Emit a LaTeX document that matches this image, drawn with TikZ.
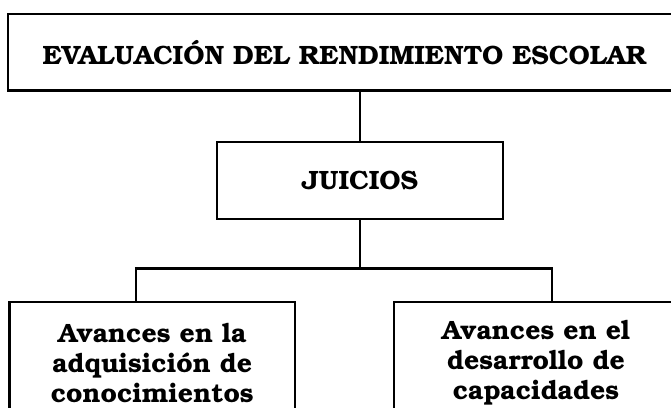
\documentclass[tikz,border=0pt]{standalone}
\usepackage[T1]{fontenc}
\usepackage{bookman}
\begin{document}
\begin{tikzpicture}[x=1pt,y=1pt,
  box/.style={draw=black, line width=2.2pt, rectangle, inner sep=0pt, align=center,
    font=\fontsize{26.5}{30}\selectfont\bfseries},
  conn/.style={draw=black, line width=2.2pt}]
\useasboundingbox (0,0) rectangle (671,-407);
\clip (0,0) rectangle (671,-407);
\fill[white] (0,0) rectangle (671,-407);
\node[box, minimum width=673pt, minimum height=76.5pt] (top) at (344.5,-52.25) {EVALUACI\'ON DEL RENDIMIENTO ESCOLAR};
\node[box, minimum width=286pt, minimum height=77.3pt] (jui) at (360,-180.35) {JUICIOS};
\node[box, minimum width=285.5pt, minimum height=122pt] (l) at (152.25,-363) {Avances en la\\adquisici\'on de\\conocimientos};
\node[box, minimum width=284pt, minimum height=122pt] (r) at (536,-363) {Avances en el\\desarrollo de\\capacidades};
\coordinate (hl) at (136,-268.5);
\coordinate (hr) at (552,-268.5);
\draw[conn] (top.south -| jui.north) -- (jui.north);
\draw[conn] (jui.south) -- (jui.south |- hl);
\draw[conn] ([xshift=-1.1pt]hl) -- ([xshift=1.1pt]hr);
\draw[conn] (hl) -- (hl |- l.north);
\draw[conn] (hr) -- (hr |- r.north);
\end{tikzpicture}
\end{document}
